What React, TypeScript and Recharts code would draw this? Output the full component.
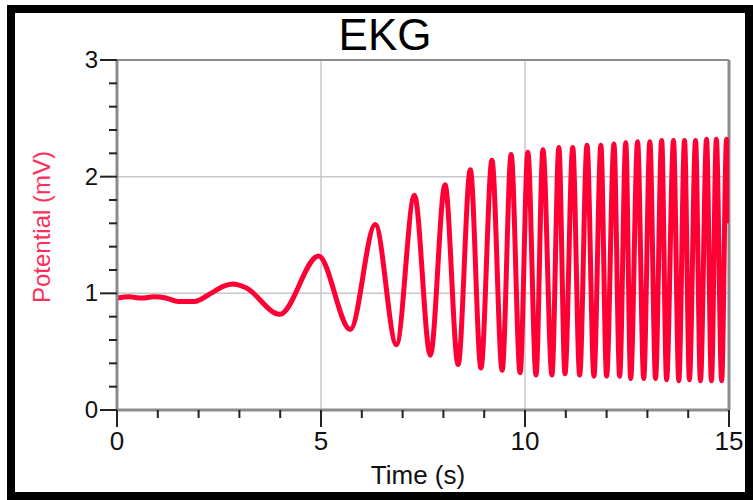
import { LineChart, Line, XAxis, YAxis, CartesianGrid, ReferenceLine } from 'recharts';

// sample times (s) and potential (mV) at its turning points
const times = [
  0, 0.3, 0.6, 0.9, 1.2, 1.5, 1.9, 2.3, 2.6, 2.84, 3.15, 3.99, 4.94, 5.72, 6.33, 6.85, 7.29, 7.68,
  8.04, 8.36, 8.66, 8.92, 9.19, 9.44, 9.66, 9.88, 10.07, 10.27, 10.44, 10.66, 10.83, 10.98,
  11.17, 11.34, 11.52, 11.69, 11.86, 12.0, 12.18, 12.32, 12.47, 12.59, 12.76, 12.91, 13.06,
  13.2, 13.35, 13.47, 13.64, 13.77, 13.91, 14.03, 14.18, 14.3, 14.45, 14.57, 14.69, 14.82,
  14.94, 15,
];
const potential = [
  0.96, 0.97, 0.96, 0.97, 0.96, 0.93, 0.93, 1.0, 1.06, 1.08, 1.05, 0.82, 1.32, 0.69, 1.59, 0.56, 1.84, 0.47,
  1.93, 0.39, 2.06, 0.36, 2.14, 0.34, 2.19, 0.32, 2.21, 0.3, 2.23, 0.3, 2.25, 0.31,
  2.25, 0.3, 2.27, 0.29, 2.27, 0.29, 2.28, 0.29, 2.29, 0.27, 2.3, 0.27, 2.3,
  0.27, 2.31, 0.26, 2.31, 0.25, 2.31, 0.26, 2.31, 0.25, 2.32, 0.25, 2.32, 0.25,
  2.32, 1.6,
];

const xTicks = [0, 1, 2, 3, 4, 5, 6, 7, 8, 9, 10, 11, 12, 13, 14, 15];
const xLabels = [0, 5, 10, 15];
const yTicks = [0, 0.2, 0.4, 0.6, 0.8, 1, 1.2, 1.4, 1.6, 1.8, 2, 2.2, 2.4, 2.6, 2.8, 3];
const yLabels = [0, 1, 2, 3];

const data = times.map((t, i) => ({ t, v: potential[i] }));

const FONT = '"Liberation Sans", Arial, sans-serif';
const RED = '#ff0035';
const AXIS = '#8c8c8c';

function XTick({ x, y, payload }: any) {
  const major = xLabels.includes(payload.value);
  return (
    <g>
      <line x1={x} x2={x} y1={y} y2={y + (major ? 17 : 8)} stroke="#222" strokeWidth={2} />
      {major && (
        <text x={x} y={y + 40} textAnchor="middle" fontFamily={FONT} fontSize={26} fill="#111">
          {payload.value}
        </text>
      )}
    </g>
  );
}

function YTick({ x, y, payload }: any) {
  const major = yLabels.includes(payload.value);
  return (
    <g>
      <line x1={x - (major ? 17 : 8)} x2={x} y1={y} y2={y} stroke="#222" strokeWidth={2} />
      {major && (
        <text x={x - 19} y={y + 8} textAnchor="end" fontFamily={FONT} fontSize={24} fill="#111">
          {payload.value}
        </text>
      )}
    </g>
  );
}

export default function App() {
  return (
    <div style={{ position: 'absolute', left: 0, top: 0, width: 753, height: 500, background: '#fff' }}>
      <LineChart
        width={753}
        height={500}
        data={data}
        margin={{ top: 60, right: 24, bottom: 60, left: 57 }}
        style={{ position: 'absolute', left: 0, top: 0 }}
      >
        <CartesianGrid
          stroke="#c8c8c8"
          strokeWidth={1.5}
          horizontalValues={[1, 2]}
          verticalValues={[5, 10]}
        />
        <ReferenceLine y={3} stroke={AXIS} strokeWidth={2} />
        <ReferenceLine x={15} stroke={AXIS} strokeWidth={3} />
        <XAxis
          type="number"
          dataKey="t"
          domain={[0, 15]}
          ticks={xTicks}
          interval={0}
          height={30}
          tickSize={0}
          tickMargin={0}
          tickLine={false}
          axisLine={{ stroke: AXIS, strokeWidth: 3 }}
          tick={<XTick />}
          allowDataOverflow
        />
        <YAxis
          type="number"
          domain={[0, 3]}
          ticks={yTicks}
          interval={0}
          width={60}
          tickSize={0}
          tickMargin={0}
          tickLine={false}
          axisLine={{ stroke: AXIS, strokeWidth: 3 }}
          tick={<YTick />}
          allowDataOverflow
        />
        <Line
          type="monotone"
          dataKey="v"
          stroke={RED}
          strokeWidth={5}
          dot={false}
          isAnimationActive={false}
        />
      </LineChart>
      <svg width={753} height={500} style={{ position: 'absolute', left: 0, top: 0, pointerEvents: 'none' }}>
        <text x={385} y={50} textAnchor="middle" fontFamily={FONT} fontSize={44} fill="#000">
          EKG
        </text>
        <text x={418} y={484} textAnchor="middle" fontFamily={FONT} fontSize={26} fill="#111">
          Time (s)
        </text>
        <text
          transform="translate(50,227) rotate(-90)"
          textAnchor="middle"
          fontFamily={FONT}
          fontSize={24}
          fill="#ff2d5a"
        >
          Potential (mV)
        </text>
      </svg>
      <div
        style={{
          position: 'absolute',
          left: 7,
          top: 5,
          width: 746 - 16,
          height: 495 - 16,
          border: '8px solid #000',
        }}
      />
    </div>
  );
}
